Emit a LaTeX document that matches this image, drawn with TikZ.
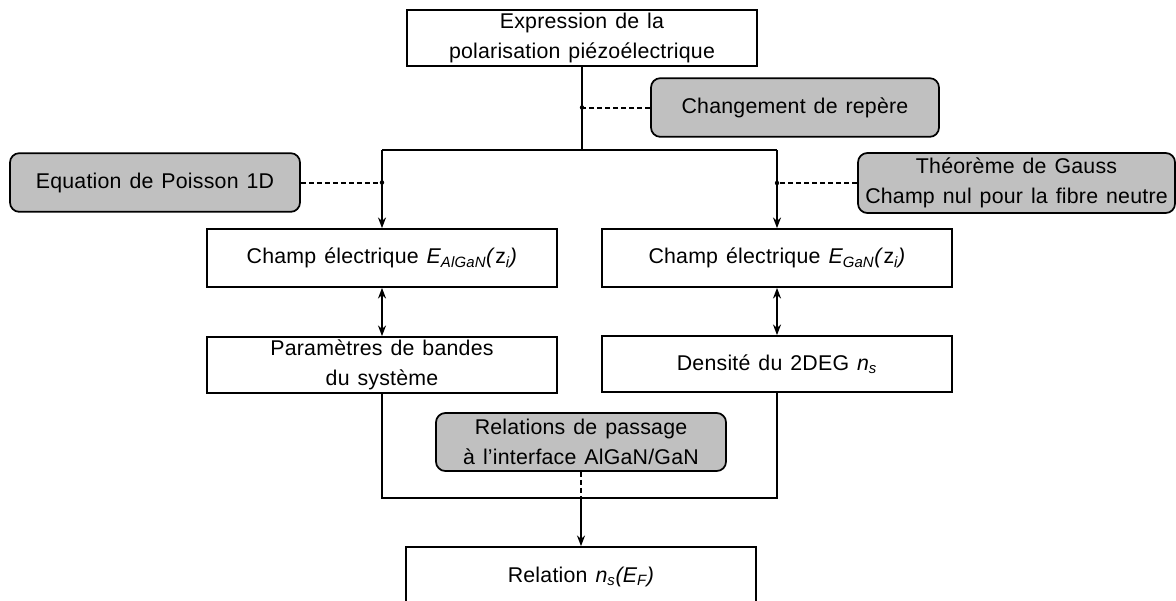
\documentclass[tikz,border=0pt]{standalone}
\usepackage{fontspec}
\setmainfont[LetterSpace=1,WordSpace=1.3]{Liberation Sans}
\usetikzlibrary{arrows.meta}
\definecolor{boxgrey}{RGB}{192,192,192}
\tikzset{
  whitebox/.style={draw, line width=1.3pt, fill=white, align=center, inner sep=0pt, minimum width=262.5pt},
  greybox/.style={draw, line width=1.3pt, fill=boxgrey, rounded corners=7pt, align=center, inner sep=0pt},
  link/.style={line width=1.5pt},
  hint/.style={line width=1.5pt, dash pattern=on 4pt off 2pt},
  tip/.style={-{Stealth[length=8pt,width=6pt]}},
  twotips/.style={{Stealth[length=8pt,width=6pt]}-{Stealth[length=8pt,width=6pt]}},
}

\begin{document}
\begin{tikzpicture}[x=0.75pt,y=0.75pt,yscale=-1,xscale=1,font=\fontsize{16}{22.5}\selectfont]
\useasboundingbox (0,0) rectangle (1176,600);

%Boxes
\node[whitebox, minimum height=42pt] (expr) at (582,38) {Expression de la\\polarisation piézoélectrique};
\node[greybox, minimum width=216pt, minimum height=44pt] (repere) at (795,107.5) {Changement de repère};
\node[greybox, minimum width=217.5pt, minimum height=44pt] (poisson) at (155,182.5) {Equation de Poisson 1D};
\node[greybox, minimum width=237.75pt, minimum height=45pt] (gauss) at (1016.5,183) {Théorème de Gauss\\Champ nul pour la fibre neutre};
\node[whitebox, minimum height=43.5pt] (champA) at (382,258) {Champ électrique \textit{E\textsubscript{AlGaN}(}z\textit{\textsubscript{i})}};
\node[whitebox, minimum height=43.5pt] (champG) at (777,258) {Champ électrique \textit{E\textsubscript{GaN}(}z\textit{\textsubscript{i})}};
\node[whitebox, minimum height=42pt] (param) at (382,365) {Paramètres de bandes\\du système};
\node[whitebox, minimum height=42pt] (dens) at (777,364) {Densité du 2DEG \textit{n\textsubscript{s}}};
\node[greybox, minimum width=217.5pt, minimum height=43.5pt] (passage) at (581,442) {Relations de passage\\à l’interface AlGaN/GaN};
\node[whitebox, minimum height=45pt] (relation) at (581,577) {Relation \textit{n\textsubscript{s}(E\textsubscript{F})}};

%Junctions
\coordinate (bus) at (0,150);
\coordinate (merge) at (0,498);

%Top split
\draw[link] (expr.south) -- (expr.south |- bus);
\draw[link] (champA.north |- bus) -- (champG.north |- bus);
\draw[link, tip] (champA.north |- bus) -- (champA.north);
\draw[link, tip] (champG.north |- bus) -- (champG.north);

%Dashed hints
\draw[hint] (repere.west) -- (repere.west -| expr.south);
\fill (repere.west -| expr.south) circle (2.2);
\draw[hint] (poisson.east) -- (poisson.east -| champA.north);
\fill (poisson.east -| champA.north) circle (2.2);
\draw[hint] (gauss.west) -- (gauss.west -| champG.north);
\fill (gauss.west -| champG.north) circle (2.2);

%Double arrows
\draw[link, twotips] (champA.south) -- (param.north);
\draw[link, twotips] (champG.south) -- (dens.north);

%Bottom merge
\draw[link] (param.south) -- (param.south |- merge) -- (dens.south |- merge) -- (dens.south);
\draw[hint] (passage.south) -- (passage.south |- merge);
\draw[link, tip] (passage.south |- merge) -- (relation.north);

\end{tikzpicture}
\end{document}
